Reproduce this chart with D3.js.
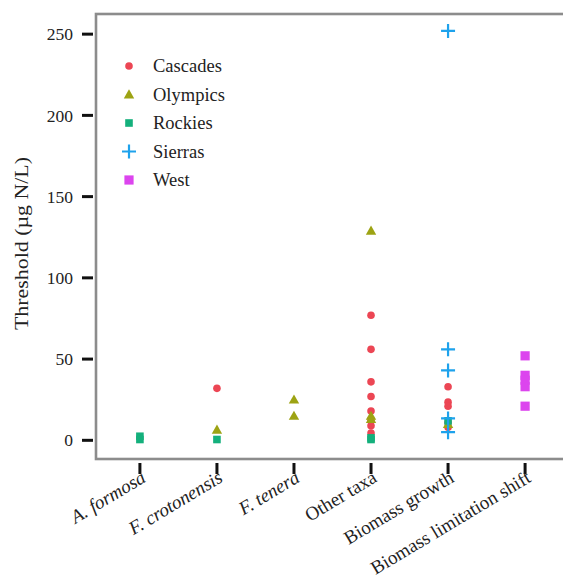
<!DOCTYPE html>
<html>
<head>
<meta charset="utf-8">
<script src="https://cdn.jsdelivr.net/npm/d3@7"></script>
<style>
  html, body { margin: 0; padding: 0; background: #fff; }
  svg { display: block; }
  text { font-family: "Liberation Serif", "Times New Roman", serif; fill: #222; }
</style>
</head>
<body>
<svg id="chart" width="563" height="583"></svg>
<script>
// Categories along the x axis (species names are set in italics)
const categories = ["A. formosa", "F. crotonensis", "F. tenera", "Other taxa", "Biomass growth", "Biomass limitation shift"];
const italicCats = ["A. formosa", "F. crotonensis", "F. tenera"];

// Regions (legend order)
const regions = ["Cascades", "Olympics", "Rockies", "Sierras", "West"];

// Threshold values (µg N/L) per region and category
const cascades = [
  ["F. crotonensis", 32],
  ["Other taxa", 77], ["Other taxa", 56], ["Other taxa", 36], ["Other taxa", 27],
  ["Other taxa", 18], ["Other taxa", 12], ["Other taxa", 9], ["Other taxa", 4.5],
  ["Biomass growth", 33], ["Biomass growth", 23.5], ["Biomass growth", 21],
  ["Biomass growth", 11], ["Biomass growth", 8]
];
const olympics = [
  ["F. crotonensis", 6.5],
  ["F. tenera", 25], ["F. tenera", 15],
  ["Other taxa", 129], ["Other taxa", 15], ["Other taxa", 13],
  ["Biomass growth", 10]
];
const rockies = [
  ["A. formosa", 2.5], ["A. formosa", 0.5],
  ["F. crotonensis", 0.5],
  ["Other taxa", 1.5], ["Other taxa", 0.5],
  ["Biomass growth", 12]
];
const sierras = [
  ["Biomass growth", 252], ["Biomass growth", 56], ["Biomass growth", 43],
  ["Biomass growth", 13.5], ["Biomass growth", 5]
];
const west = [
  ["Biomass limitation shift", 52], ["Biomass limitation shift", 40],
  ["Biomass limitation shift", 37], ["Biomass limitation shift", 33],
  ["Biomass limitation shift", 21]
];

const yTicks = [0, 50, 100, 150, 200, 250];

const series = { Cascades: cascades, Olympics: olympics, Rockies: rockies, Sierras: sierras, West: west };
const colors = { Cascades: "#ec4654", Olympics: "#9da313", Rockies: "#14b07c", Sierras: "#1ea2ec", West: "#dc45ee" };
const shapes = { Cascades: "circle", Olympics: "triangle", Rockies: "square", Sierras: "plus", West: "bigsquare" };

const svg = d3.select("#chart");
const panelL = 96, panelT = 14, panelB = 459, panelR = 569;

const x = d3.scalePoint().domain(categories).range([panelL, panelR]).padding(0.57);
const y = d3.scaleLinear().domain([-11.5, 262.4]).range([panelB, panelT]);

// Panel border (right side runs past the visible area)
svg.append("rect")
  .attr("x", panelL).attr("y", panelT)
  .attr("width", panelR + 20 - panelL).attr("height", panelB - panelT)
  .attr("fill", "#fff").attr("stroke", "#8c8c8c").attr("stroke-width", 2.6);

// Y axis ticks and labels
const yAxis = svg.append("g");
yAxis.selectAll("line").data(yTicks).join("line")
  .attr("x1", 82).attr("x2", 93)
  .attr("y1", d => y(d)).attr("y2", d => y(d))
  .attr("stroke", "#111").attr("stroke-width", 3);
yAxis.selectAll("text").data(yTicks).join("text")
  .attr("x", 73).attr("y", d => y(d))
  .attr("dy", "0.35em").attr("text-anchor", "end")
  .attr("font-size", 17.5)
  .text(d => d);

// X axis ticks and rotated labels
const xAxis = svg.append("g");
xAxis.selectAll("line").data(categories).join("line")
  .attr("x1", d => x(d)).attr("x2", d => x(d))
  .attr("y1", 463).attr("y2", 474)
  .attr("stroke", "#111").attr("stroke-width", 3);
xAxis.selectAll("text").data(categories).join("text")
  .attr("transform", d => `translate(${x(d) + 7},${481}) rotate(-31)`)
  .attr("text-anchor", "end")
  .attr("font-size", 19)
  .attr("font-style", d => italicCats.includes(d) ? "italic" : "normal")
  .text(d => d);

// Y axis title, stretched along its length
svg.append("text")
  .attr("transform", `translate(28,243.5) rotate(-90)`)
  .attr("text-anchor", "middle")
  .attr("font-size", 18)
  .attr("textLength", 173)
  .attr("lengthAdjust", "spacingAndGlyphs")
  .text("Threshold (µg N/L)");

// Marker drawing
function drawMarker(g, shape, color, cx, cy) {
  if (shape === "circle") {
    g.append("circle").attr("cx", cx).attr("cy", cy).attr("r", 3.8).attr("fill", color);
  } else if (shape === "triangle") {
    const s = 5.2;
    g.append("path")
      .attr("d", `M${cx},${cy - s}L${cx + s},${cy + s * 0.75}L${cx - s},${cy + s * 0.75}Z`)
      .attr("fill", color);
  } else if (shape === "square") {
    g.append("rect").attr("x", cx - 3.8).attr("y", cy - 3.8).attr("width", 7.6).attr("height", 7.6).attr("fill", color);
  } else if (shape === "bigsquare") {
    g.append("rect").attr("x", cx - 4.6).attr("y", cy - 4.6).attr("width", 9.2).attr("height", 9.2).attr("fill", color);
  } else if (shape === "plus") {
    g.append("path")
      .attr("d", `M${cx - 7},${cy}H${cx + 7}M${cx},${cy - 7}V${cy + 7}`)
      .attr("stroke", color).attr("stroke-width", 2.2).attr("fill", "none");
  }
}

// Points
const pts = svg.append("g");
regions.forEach(r => {
  series[r].forEach(([cat, v]) => {
    drawMarker(pts, shapes[r], colors[r], x(cat), y(v));
  });
});

// Legend
const legend = svg.append("g");
regions.forEach((r, i) => {
  const ly = 66 + i * 28.5;
  drawMarker(legend, shapes[r], colors[r], 129, ly);
  legend.append("text")
    .attr("x", 153).attr("y", ly).attr("dy", "0.35em")
    .attr("font-size", 18.5)
    .text(r);
});
</script>
</body>
</html>
